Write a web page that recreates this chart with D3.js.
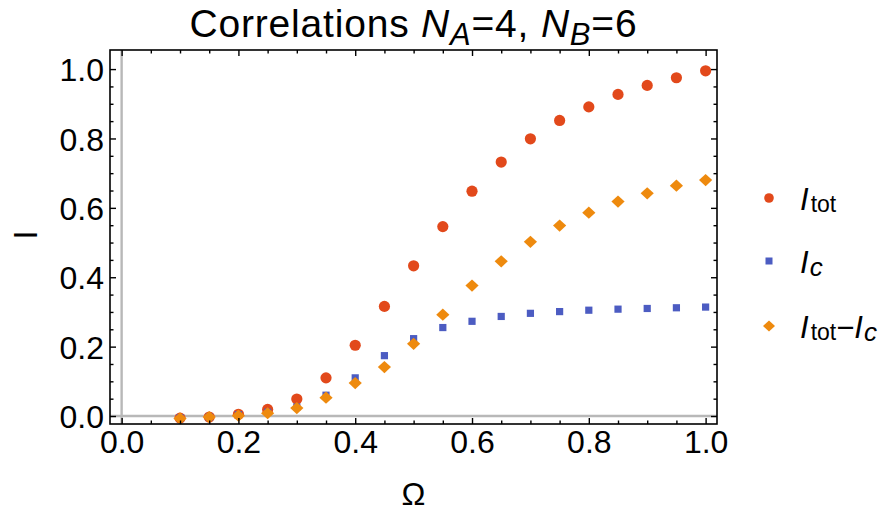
<!DOCTYPE html>
<html>
<head>
<meta charset="utf-8">
<script src="https://cdn.jsdelivr.net/npm/d3@7"></script>
<style>
    body { margin: 0; background: #fff; }
    text { font-family: "Liberation Sans", Arial, sans-serif; }
</style>
</head>
<body>
<script>
'use strict';

const width = 888;
const height = 515;

// Omega values
let omega = [0.10, 0.15, 0.20, 0.25, 0.30, 0.35, 0.40, 0.45, 0.50, 0.55,
    0.60, 0.65, 0.70, 0.75, 0.80, 0.85, 0.90, 0.95, 1.00];

let iTot = [-0.006, -0.003, 0.005, 0.019, 0.049, 0.110, 0.204, 0.316, 0.433, 0.546,
    0.648, 0.732, 0.799, 0.852, 0.891, 0.927, 0.953, 0.975, 0.995];

let iC = [-0.005, -0.003, 0.004, 0.011, 0.026, 0.060, 0.110, 0.174, 0.223, 0.255,
    0.273, 0.287, 0.296, 0.301, 0.305, 0.308, 0.310, 0.312, 0.314];

let iDiff = [-0.007, -0.003, 0.001, 0.008, 0.023, 0.053, 0.095, 0.141, 0.208, 0.292,
    0.376, 0.446, 0.502, 0.549, 0.586, 0.618, 0.642, 0.664, 0.680];

let majorTicks = [0, 0.2, 0.4, 0.6, 0.8, 1.0];
let minorTicks = [0.05, 0.1, 0.15, 0.25, 0.3, 0.35, 0.45, 0.5, 0.55, 0.65, 0.7, 0.75, 0.85, 0.9, 0.95];

const frameLeft = 110;
const frameRight = 717;
const frameTop = 50;
const frameBottom = 424;

const red = "#e2491b";
const blue = "#4c5cc2";
const orange = "#ee8a0e";

let svg = d3.select("body").append("svg").attr('width', width).attr('height', height);

let xScale = d3.scaleLinear().domain([-0.0199, 1.0195]).range([frameLeft, frameRight]);
let yScale = d3.scaleLinear().domain([-0.023, 1.055]).range([frameBottom, frameTop]);

// gray axes through the origin
svg.append("line")
    .attr("x1", frameLeft).attr("x2", frameRight)
    .attr("y1", yScale(0)).attr("y2", yScale(0))
    .attr("stroke", "#b8b8b8").attr("stroke-width", 2.4);
svg.append("line")
    .attr("x1", xScale(0)).attr("x2", xScale(0))
    .attr("y1", frameTop).attr("y2", frameBottom)
    .attr("stroke", "#b8b8b8").attr("stroke-width", 2.4);

let points = omega.map((o, i) => ({ o: o, tot: iTot[i], c: iC[i], diff: iDiff[i] }));

svg.append("g")
    .attr("fill", red)
    .selectAll("circle")
    .data(points)
    .join("circle")
    .attr("cx", d => xScale(d.o))
    .attr("cy", d => yScale(d.tot))
    .attr("r", 5.6);

svg.append("g")
    .attr("fill", blue)
    .selectAll("rect")
    .data(points)
    .join("rect")
    .attr("x", d => xScale(d.o) - 3.6)
    .attr("y", d => yScale(d.c) - 3.6)
    .attr("width", 7.2)
    .attr("height", 7.2);

function diamond(cx, cy, w, h) {
    return "M" + (cx - w) + "," + cy + "L" + cx + "," + (cy - h) + "L" + (cx + w) + "," + cy + "L" + cx + "," + (cy + h) + "Z";
}

svg.append("g")
    .attr("fill", orange)
    .selectAll("path")
    .data(points)
    .join("path")
    .attr("d", d => diamond(xScale(d.o), yScale(d.diff), 6.6, 6.1));

// frame
svg.append("rect")
    .attr("x", frameLeft).attr("y", frameTop)
    .attr("width", frameRight - frameLeft).attr("height", frameBottom - frameTop)
    .attr("fill", "none").attr("stroke", "#000").attr("stroke-width", 1.6);

function addAxis(axis, tx, ty, labels) {
    let g = svg.append("g")
        .attr("transform", "translate(" + tx + "," + ty + ")")
        .call(axis);
    g.select(".domain").remove();
    g.selectAll(".tick line").attr("stroke", "#000").attr("stroke-width", 1.4);
    g.selectAll(".tick text")
        .attr("fill", "#000")
        .style("font-size", "32px")
        .style("font-family", "'Liberation Sans', Arial, sans-serif");
    if (!labels) g.selectAll(".tick text").remove();
    return g;
}

let fmt = d3.format(".1f");

addAxis(d3.axisBottom(xScale).tickValues(majorTicks).tickSize(-6).tickPadding(6).tickFormat(fmt), 0, frameBottom, true);
addAxis(d3.axisBottom(xScale).tickValues(minorTicks).tickSize(-3.5), 0, frameBottom, false);
addAxis(d3.axisTop(xScale).tickValues(majorTicks).tickSize(-6), 0, frameTop, false);
addAxis(d3.axisTop(xScale).tickValues(minorTicks).tickSize(-3.5), 0, frameTop, false);

let yLabels = addAxis(d3.axisLeft(yScale).tickValues(majorTicks).tickSize(-6).tickPadding(6).tickFormat(fmt), frameLeft, 0, true);
yLabels.selectAll(".tick text").attr("dy", "0.36em");
addAxis(d3.axisLeft(yScale).tickValues(minorTicks).tickSize(-3.5), frameLeft, 0, false);
addAxis(d3.axisRight(yScale).tickValues(majorTicks).tickSize(-6), frameRight, 0, false);
addAxis(d3.axisRight(yScale).tickValues(minorTicks).tickSize(-3.5), frameRight, 0, false);

// title
let title = svg.append("text")
    .attr("x", (frameLeft + frameRight) / 2)
    .attr("y", 37)
    .attr("text-anchor", "middle")
    .style("font-size", "39px")
    .style("letter-spacing", "0.8px");
title.append("tspan").text("Correlations ");
title.append("tspan").attr("font-style", "italic").text("N");
title.append("tspan").attr("font-style", "italic").attr("dy", 8).style("font-size", "31px").text("A");
title.append("tspan").attr("dy", -8).text("=4, ");
title.append("tspan").attr("font-style", "italic").text("N");
title.append("tspan").attr("font-style", "italic").attr("dy", 8).style("font-size", "31px").text("B");
title.append("tspan").attr("dy", -8).text("=6");

// axis labels
svg.append("text")
    .attr("x", (frameLeft + frameRight) / 2)
    .attr("y", 505)
    .attr("text-anchor", "middle")
    .style("font-size", "32px")
    .text("Ω");

svg.append("text")
    .attr("transform", "translate(37,235) rotate(-90)")
    .attr("text-anchor", "middle")
    .style("font-size", "33px")
    .text("I");

// legend
let legend = svg.append("g");
legend.append("circle").attr("cx", 769).attr("cy", 198).attr("r", 4.8).attr("fill", red);
legend.append("rect").attr("x", 765.5).attr("y", 257.5).attr("width", 7).attr("height", 7).attr("fill", blue);
legend.append("path").attr("d", diamond(769, 326, 6, 5.5)).attr("fill", orange);

let l1 = legend.append("text").attr("x", 800).attr("y", 210).style("font-size", "31px");
l1.append("tspan").attr("font-style", "italic").text("I");
l1.append("tspan").attr("dx", 2).attr("dy", 2).style("font-size", "23px").text("tot");

let l2 = legend.append("text").attr("x", 800).attr("y", 273).style("font-size", "31px");
l2.append("tspan").attr("font-style", "italic").text("I");
l2.append("tspan").attr("dx", 1).attr("dy", 3).attr("font-style", "italic").style("font-size", "26px").text("c");

let l3 = legend.append("text").attr("x", 800).attr("y", 338).style("font-size", "31px");
l3.append("tspan").attr("font-style", "italic").text("I");
l3.append("tspan").attr("dx", 2).attr("dy", 2).style("font-size", "23px").text("tot");
l3.append("tspan").attr("dy", -2).text("\u2212");
l3.append("tspan").attr("font-style", "italic").text("I");
l3.append("tspan").attr("dx", 1).attr("dy", 3).attr("font-style", "italic").style("font-size", "26px").text("c");
</script>
</body>
</html>
